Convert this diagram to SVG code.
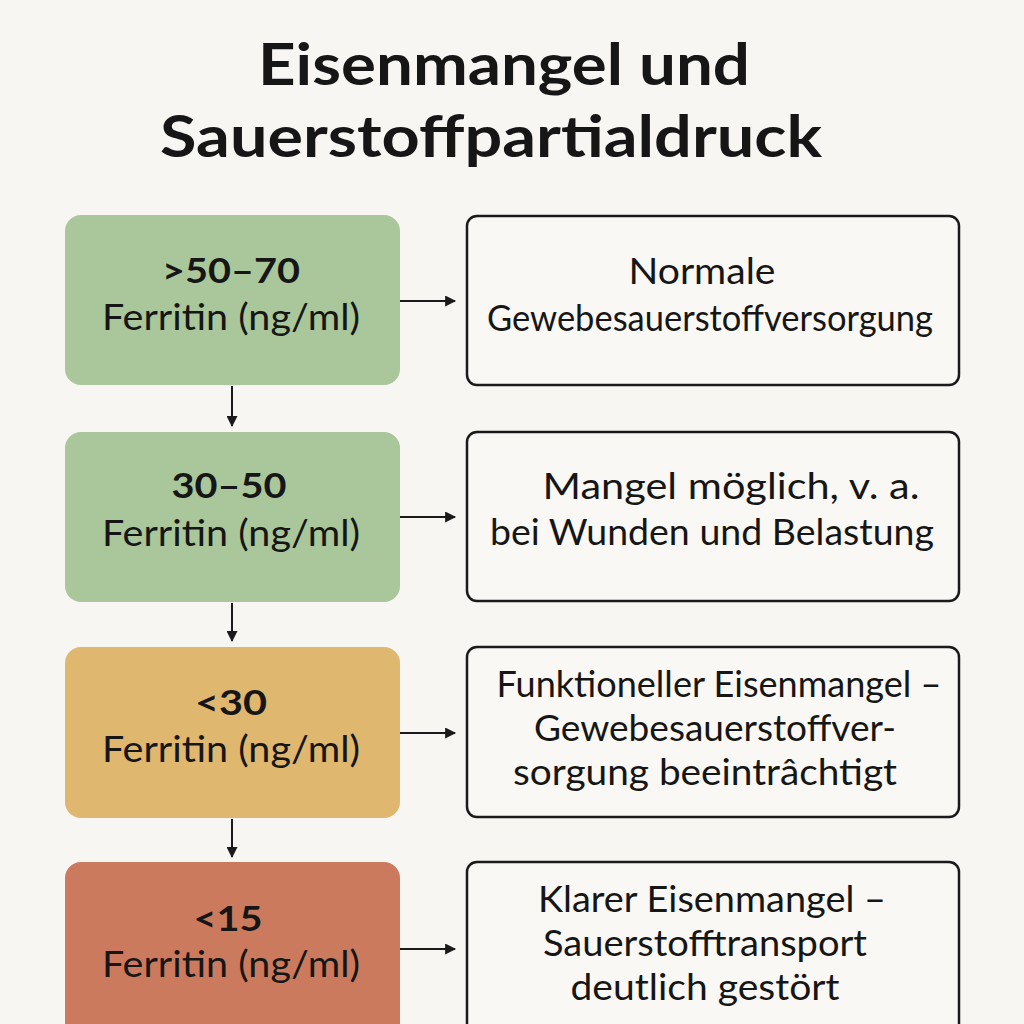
<svg xmlns="http://www.w3.org/2000/svg" width="1024" height="1024" viewBox="0 0 1024 1024">
<defs>
<marker id="ah" viewBox="0 0 10 10" refX="9" refY="5" markerWidth="12" markerHeight="11" markerUnits="userSpaceOnUse" orient="auto">
<path d="M0,0 L10,5 L0,10 z" fill="#1a1a1a"/>
</marker>
<style>
.title{font-family:Lato,"Liberation Sans",sans-serif;font-weight:700;font-size:57px;fill:#161616;text-anchor:middle}
.lv{font-family:Lato,"Liberation Sans",sans-serif;font-size:37px;fill:#161616;text-anchor:middle}
.lvb{font-weight:700;font-size:34px}
.rt{font-family:Lato,"Liberation Sans",sans-serif;font-size:36px;fill:#161616;text-anchor:middle}
.rb{fill:#faf8f4;stroke:#1a1a1a;stroke-width:2.5}
.conn{stroke:#1a1a1a;stroke-width:2;fill:none}
</style>
</defs>
<rect x="0" y="0" width="1024" height="1024" fill="#f8f6f2"/>
<g id="title">
<text class="title" x="504" y="85" textLength="492" lengthAdjust="spacingAndGlyphs">Eisenmangel und</text>
<text class="title" x="491" y="157" textLength="662" lengthAdjust="spacingAndGlyphs">Sauerstoffpartialdruck</text>
</g>
<g id="n1">
<rect x="65" y="215" width="335" height="170" rx="16" fill="#a9c79a"/>
<text class="lv lvb" x="231" y="283" textLength="138" lengthAdjust="spacingAndGlyphs">&gt;50–70</text>
<text class="lv" x="231" y="330" textLength="258" lengthAdjust="spacingAndGlyphs">Ferritin (ng/ml)</text>
</g>
<g id="n2">
<rect x="65" y="432" width="335" height="170" rx="16" fill="#a9c79a"/>
<text class="lv lvb" x="229" y="498" textLength="115" lengthAdjust="spacingAndGlyphs">30–50</text>
<text class="lv" x="231" y="546" textLength="258" lengthAdjust="spacingAndGlyphs">Ferritin (ng/ml)</text>
</g>
<g id="n3">
<rect x="65" y="647" width="335" height="171" rx="16" fill="#e0b76e"/>
<text class="lv lvb" x="231" y="715" textLength="72" lengthAdjust="spacingAndGlyphs">&lt;30</text>
<text class="lv" x="231" y="762" textLength="258" lengthAdjust="spacingAndGlyphs">Ferritin (ng/ml)</text>
</g>
<g id="n4">
<rect x="65" y="862" width="335" height="190" rx="16" fill="#cb7a5e"/>
<text class="lv lvb" x="228" y="931" textLength="69" lengthAdjust="spacingAndGlyphs">&lt;15</text>
<text class="lv" x="231" y="977" textLength="258" lengthAdjust="spacingAndGlyphs">Ferritin (ng/ml)</text>
</g>
<g id="r1">
<rect class="rb" x="467" y="216" width="492" height="169" rx="10"/>
<text class="rt" x="702" y="284" textLength="147" lengthAdjust="spacingAndGlyphs">Normale</text>
<text class="rt" x="710" y="331" textLength="446" lengthAdjust="spacingAndGlyphs">Gewebesauerstoffversorgung</text>
</g>
<g id="r2">
<rect class="rb" x="467" y="432" width="492" height="169" rx="10"/>
<text class="rt" x="731" y="499" textLength="377" lengthAdjust="spacingAndGlyphs">Mangel möglich, v. a.</text>
<text class="rt" x="712" y="545" textLength="444" lengthAdjust="spacingAndGlyphs">bei Wunden und Belastung</text>
</g>
<g id="r3">
<rect class="rb" x="467" y="647" width="492" height="170" rx="10"/>
<text class="rt" x="719" y="697" textLength="445" lengthAdjust="spacingAndGlyphs">Funktioneller Eisenmangel –</text>
<text class="rt" x="715" y="741" textLength="362" lengthAdjust="spacingAndGlyphs">Gewebesauerstoffver-</text>
<text class="rt" x="705" y="785" textLength="384" lengthAdjust="spacingAndGlyphs">sorgung beeintrâchtigt</text>
</g>
<g id="r4">
<rect class="rb" x="467" y="862" width="492" height="190" rx="10"/>
<text class="rt" x="712" y="912" textLength="348" lengthAdjust="spacingAndGlyphs">Klarer Eisenmangel –</text>
<text class="rt" x="705" y="956" textLength="324" lengthAdjust="spacingAndGlyphs">Sauerstofftransport</text>
<text class="rt" x="705" y="1000" textLength="269" lengthAdjust="spacingAndGlyphs">deutlich gestört</text>
</g>
<g id="connectors">
<line class="conn" x1="400" y1="301" x2="455" y2="301" marker-end="url(#ah)"/>
<line class="conn" x1="400" y1="517" x2="455" y2="517" marker-end="url(#ah)"/>
<line class="conn" x1="400" y1="733" x2="455" y2="733" marker-end="url(#ah)"/>
<line class="conn" x1="400" y1="949" x2="455" y2="949" marker-end="url(#ah)"/>
<line class="conn" x1="232" y1="386" x2="232" y2="426" marker-end="url(#ah)"/>
<line class="conn" x1="232" y1="603" x2="232" y2="641" marker-end="url(#ah)"/>
<line class="conn" x1="232" y1="819" x2="232" y2="857" marker-end="url(#ah)"/>
</g>
</svg>
